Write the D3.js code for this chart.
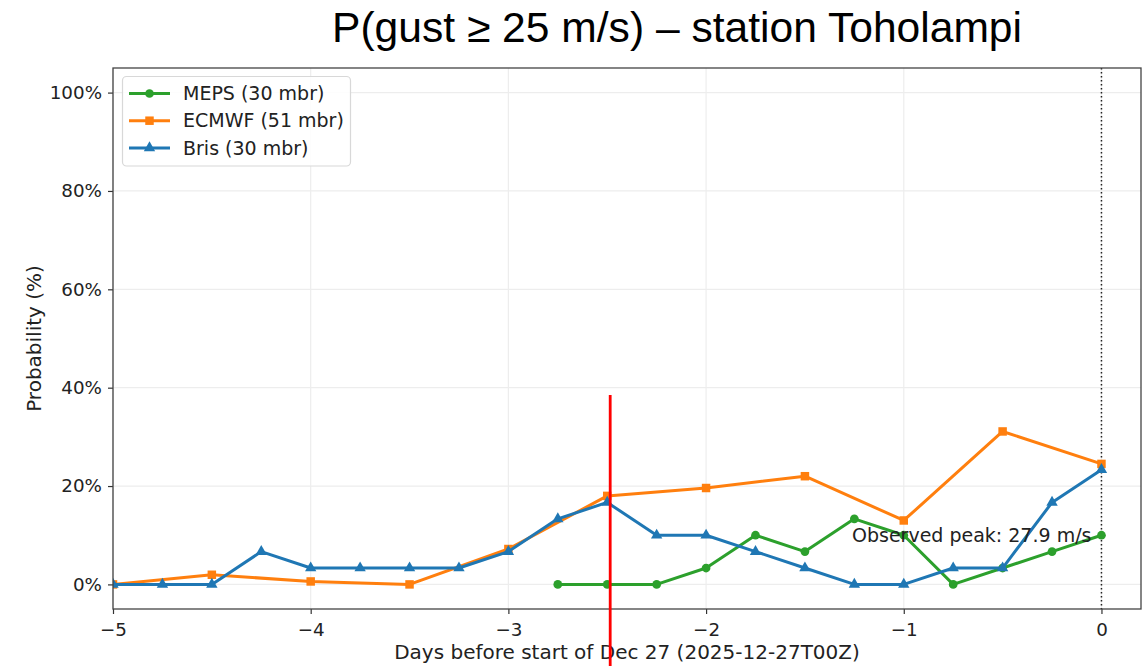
<!DOCTYPE html>
<html>
<head>
<meta charset="utf-8">
<script src="https://cdn.jsdelivr.net/npm/d3@7"></script>
<style>
  html, body { margin: 0; padding: 0; background: #fff; }
  svg { display: block; }
</style>
</head>
<body>
<svg id="chart" width="1146" height="666"></svg>
<script>
// ---- data ----
const titleText = "P(gust \u2265 25 m/s) \u2013 station Toholampi";
const xLabel = "Days before start of Dec 27 (2025-12-27T00Z)";
const yLabel = "Probability (%)";
const annotationText = "Observed peak: 27.9 m/s";
const annotationPoint = [0, 10];

const mepsX = [-2.75, -2.5, -2.25, -2, -1.75, -1.5, -1.25, -1, -0.75, -0.5, -0.25, 0];
const mepsY = [0, 0, 0, 3.33, 10, 6.67, 13.33, 10, 0, 3.33, 6.67, 10];

const ecmwfX = [-5, -4.5, -4, -3.5, -3, -2.5, -2, -1.5, -1, -0.5, 0];
const ecmwfY = [0, 1.96, 0.6, 0, 7.2, 18.0, 19.6, 22.0, 13.0, 31.1, 24.5];

const brisX = [-5, -4.75, -4.5, -4.25, -4, -3.75, -3.5, -3.25, -3, -2.75, -2.5, -2.25, -2, -1.75, -1.5, -1.25, -1, -0.75, -0.5, -0.25, 0];
const brisY = [0, 0, 0, 6.67, 3.33, 3.33, 3.33, 3.33, 6.67, 13.33, 16.67, 10, 10, 6.67, 3.33, 0, 0, 3.33, 3.33, 16.67, 23.33];

const seriesNames = ["MEPS (30 mbr)", "ECMWF (51 mbr)", "Bris (30 mbr)"];
const seriesColors = ["#2ca02c", "#ff7f0e", "#1f77b4"];
const seriesMarkers = ["circle", "square", "triangle"];

const xTicks = [-5, -4, -3, -2, -1, 0];
const yTicks = [0, 20, 40, 60, 80, 100];
const xDomain = [-5, 0.2];
const yDomain = [-5, 105];
const redLineX = -2.485;

// ---- layout ----
const svg = d3.select("#chart");
const L = 113, R = 1141, T = 68, B = 609;
const x = d3.scaleLinear().domain(xDomain).range([L, R]);
const y = d3.scaleLinear().domain(yDomain).range([B, T]);
const tickFont = "'DejaVu Sans', sans-serif";

// grid
const grid = svg.append("g");
grid.selectAll("line.gx").data(xTicks).enter().append("line")
  .attr("x1", d => x(d)).attr("x2", d => x(d)).attr("y1", T).attr("y2", B)
  .attr("stroke", "#ededed").attr("stroke-width", 1.2);
grid.selectAll("line.gy").data(yTicks).enter().append("line")
  .attr("x1", L).attr("x2", R).attr("y1", d => y(d)).attr("y2", d => y(d))
  .attr("stroke", "#ededed").attr("stroke-width", 1.2);

// axes
const fmtX = d => d < 0 ? "\u2212" + Math.abs(d) : String(d);
const xAxis = d3.axisBottom(x).tickValues(xTicks).tickFormat(fmtX).tickSize(5).tickPadding(6);
const yAxis = d3.axisLeft(y).tickValues(yTicks).tickFormat(d => d + "%").tickSize(5).tickPadding(6);
const gx = svg.append("g").attr("transform", `translate(0,${B})`).call(xAxis);
const gy = svg.append("g").attr("transform", `translate(${L},0)`).call(yAxis);
[gx, gy].forEach(g => {
  g.select(".domain").remove();
  g.selectAll(".tick line").attr("stroke", "#333").attr("stroke-width", 1.2);
  g.selectAll(".tick text").attr("font-family", tickFont).attr("font-size", 18.3).attr("fill", "#222");
});
gx.selectAll(".tick text").attr("dy", "0.85em");

// clip for data
svg.append("clipPath").attr("id", "clip").append("rect")
  .attr("x", L).attr("y", T).attr("width", R - L).attr("height", B - T);

const plot = svg.append("g").attr("clip-path", "url(#clip)");

// dotted line at x=0
plot.append("line")
  .attr("x1", x(0)).attr("x2", x(0)).attr("y1", T).attr("y2", B)
  .attr("stroke", "#222").attr("stroke-width", 1.5).attr("stroke-dasharray", "1.5,2.5");

const symbolFor = m => m === "circle" ? d3.symbol(d3.symbolCircle, 60)
  : m === "square" ? d3.symbol(d3.symbolSquare, 72)
  : d3.symbol(d3.symbolTriangle, 56);

const allSeries = [
  { xs: mepsX, ys: mepsY },
  { xs: ecmwfX, ys: ecmwfY },
  { xs: brisX, ys: brisY }
];
const lineGen = d3.line().x(d => x(d[0])).y(d => y(d[1]));

allSeries.forEach((s, i) => {
  const pts = s.xs.map((v, j) => [v, s.ys[j]]);
  const g = plot.append("g");
  g.append("path").datum(pts).attr("d", lineGen)
    .attr("fill", "none").attr("stroke", seriesColors[i]).attr("stroke-width", 3)
    .attr("stroke-linejoin", "round");
  g.selectAll("path.m").data(pts).enter().append("path")
    .attr("transform", d => `translate(${x(d[0])},${y(d[1])})`)
    .attr("d", symbolFor(seriesMarkers[i])())
    .attr("fill", seriesColors[i]);
});

// annotation
svg.append("text")
  .attr("x", x(annotationPoint[0]) - 10).attr("y", y(annotationPoint[1]))
  .attr("dy", "0.35em").attr("text-anchor", "end")
  .attr("font-family", tickFont).attr("font-size", 19).attr("fill", "#222")
  .text(annotationText);

// frame
svg.append("rect").attr("x", L).attr("y", T).attr("width", R - L).attr("height", B - T)
  .attr("fill", "none").attr("stroke", "#444").attr("stroke-width", 1.3);

// legend
const lg = svg.append("g");
lg.append("rect").attr("x", 122.5).attr("y", 76.5).attr("width", 228).attr("height", 89.5)
  .attr("rx", 4).attr("fill", "#fff").attr("fill-opacity", 0.85)
  .attr("stroke", "#d8d8d8").attr("stroke-width", 1.2);
seriesNames.forEach((name, i) => {
  const cy = 93.5 + i * 27.2;
  lg.append("line").attr("x1", 129).attr("x2", 170).attr("y1", cy).attr("y2", cy)
    .attr("stroke", seriesColors[i]).attr("stroke-width", 3);
  lg.append("path").attr("transform", `translate(149.5,${cy})`)
    .attr("d", symbolFor(seriesMarkers[i])()).attr("fill", seriesColors[i]);
  lg.append("text").attr("x", 183).attr("y", cy).attr("dy", "0.35em")
    .attr("font-family", tickFont).attr("font-size", 19).attr("fill", "#222")
    .text(name);
});

// axis labels
svg.append("text").attr("x", (L + R) / 2).attr("y", 659)
  .attr("text-anchor", "middle").attr("font-family", tickFont).attr("font-size", 20).attr("fill", "#222")
  .text(xLabel);
svg.append("text").attr("transform", `translate(41,${(T + B) / 2}) rotate(-90)`)
  .attr("text-anchor", "middle").attr("font-family", tickFont).attr("font-size", 20).attr("fill", "#222")
  .text(yLabel);

// title
svg.append("text").attr("x", 332).attr("y", 42)
  .attr("font-family", "'Liberation Sans', Arial, sans-serif").attr("font-size", 42).attr("fill", "#000")
  .attr("textLength", 690).attr("lengthAdjust", "spacingAndGlyphs")
  .text(titleText);

// red marker line (overlay)
svg.append("line")
  .attr("x1", x(redLineX)).attr("x2", x(redLineX)).attr("y1", 395).attr("y2", 666)
  .attr("stroke", "#ff0000").attr("stroke-width", 2.8);
</script>
</body>
</html>
